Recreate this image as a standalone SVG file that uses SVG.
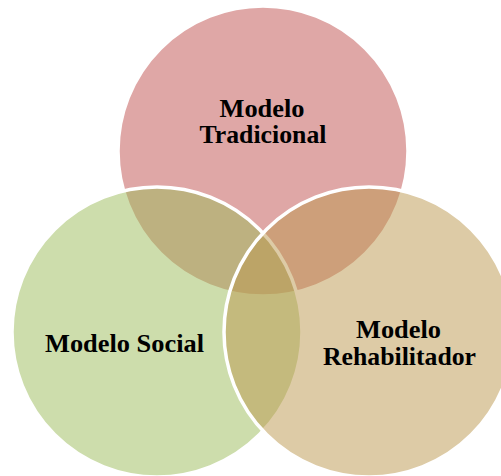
<svg xmlns="http://www.w3.org/2000/svg" width="501" height="476" viewBox="0 0 501 476">
<style>
.c{stroke:#ffffff;stroke-width:3.5;fill-opacity:0.5}
.t{font-family:"Liberation Serif","Times New Roman",serif;font-weight:bold;font-size:25px;fill:#000;text-anchor:middle}
</style>
<rect width="501" height="476" fill="#ffffff"/>
<g id="tradicional">
<circle class="c" cx="263" cy="151" r="145" fill="#C0504D"/>
</g>
<g id="social">
<circle class="c" cx="157" cy="332" r="145" fill="#9BBB59"/>
</g>
<g id="rehabilitador">
<circle class="c" cx="369" cy="332" r="145" fill="#BB974D"/>
</g>
<g id="labels">
<text class="t" x="262" y="117" textLength="85" lengthAdjust="spacingAndGlyphs">Modelo</text>
<text class="t" x="263" y="143" textLength="127" lengthAdjust="spacingAndGlyphs">Tradicional</text>
<text class="t" x="124.5" y="352" textLength="159" lengthAdjust="spacingAndGlyphs">Modelo Social</text>
<text class="t" x="398.5" y="338" textLength="85" lengthAdjust="spacingAndGlyphs">Modelo</text>
<text class="t" x="399.5" y="365" textLength="153" lengthAdjust="spacingAndGlyphs">Rehabilitador</text>
</g>
<g id="connectors"/>
</svg>
